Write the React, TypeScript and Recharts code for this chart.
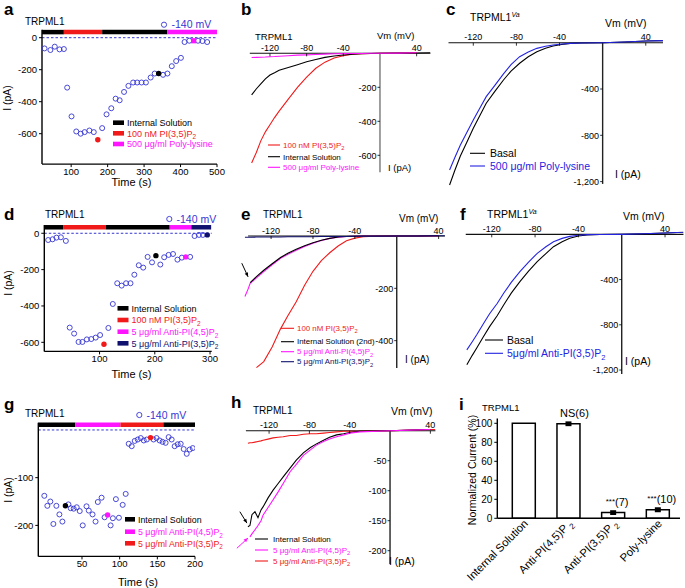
import React from 'react';
import {
  ScatterChart, Scatter, LineChart, Line, BarChart, Bar, ErrorBar, LabelList,
  XAxis, YAxis, ReferenceLine, ReferenceDot,
} from 'recharts';

const FONT = '"Liberation Sans", Arial, Helvetica, sans-serif';
const BLUE = '#3535d4';
const RED = '#f01a1a';
const MAGENTA = '#ff14ff';
const NAVY = '#10106e';
const BLACK = '#000';

// ---------- a: time course, -140 mV
const aTime = [27, 43, 55, 68, 80, 89, 101, 114, 126, 137, 150, 162, 185, 197, 210, 222, 233, 245, 257, 270, 281, 293, 305, 318, 329, 352, 364, 376, 388, 401, 411, 424, 448, 460, 473];
const aCurrent = [-67, -77, -56, -73, -71, -312, -492, -586, -600, -590, -580, -590, -565, -479, -441, -381, -391, -339, -301, -280, -280, -280, -280, -249, -224, -232, -224, -178, -146, -126, -27, -19, -19, -21, -27];
const aMarkTime = [173, 340, 436];
const aMarkCurrent = [-638, -224, -19];
const aMarkColors = [RED, BLACK, MAGENTA];
const aBarEdges = [20, 80, 185, 364, 500];
const aBarColors = [BLACK, RED, BLACK, MAGENTA];
const aLegend = ['Internal Solution', '100 nM PI(3,5)P2', '500 \u03bcg/ml Poly-lysine'];

// ---------- d
const dTime = [7, 15, 22, 30, 39, 46, 54, 62, 69, 77, 85, 93, 101, 116, 124, 132, 140, 148, 156, 163, 171, 179, 187, 195, 210, 217, 225, 233, 241, 249, 264, 272, 280, 287];
const dCurrent = [-37, -33, -24, -22, -42, -519, -552, -598, -598, -584, -582, -574, -560, -521, -389, -275, -288, -275, -275, -228, -176, -189, -130, -160, -172, -132, -119, -114, -145, -134, -130, -15, -9, -9];
const dMarkTime = [108, 202, 256, 295];
const dMarkCurrent = [-611, -123, -130, -9];
const dMarkColors = [RED, BLACK, MAGENTA, NAVY];
const dBarEdges = [0, 34, 111, 227, 266, 302];
const dBarColors = [BLACK, RED, BLACK, MAGENTA, NAVY];
const dLegend = ['Internal Solution', '100 nM PI(3,5)P2', '5 \u03bcg/ml Anti-PI(4,5)P2', '5 \u03bcg/ml Anti-PI(3,5)P2'];

// ---------- g
const gTime = [0, 4, 8, 12, 16, 20, 24, 32, 35, 39, 43, 47, 51, 56, 59, 64, 68, 71, 76, 80, 88, 91, 95, 99, 104, 108, 112, 116, 120, 124, 128, 132, 136, 145, 149, 153, 157, 161, 165, 169, 173, 177, 181, 185, 189, 193, 197];
const gCurrent = [-138, -159, -150, -197, -159, -177, -192, -156, -164, -165, -162, -170, -200, -160, -169, -177, -192, -151, -142, -183, -200, -185, -145, -184, -157, -134, -29, -34, -23, -20, -17, -22, -20, -20, -17, -22, -25, -27, -15, -20, -34, -30, -29, -40, -50, -41, -38];
const gMarkTime = [28, 84, 141];
const gMarkCurrent = [-159, -178, -16];
const gMarkColors = [BLACK, MAGENTA, RED];
const gBarEdges = [-8, 41, 101, 158, 200];
const gBarColors = [BLACK, MAGENTA, RED, BLACK];
const gLegend = ['Internal Solution', '5 \u03bcg/ml Anti-PI(4,5)P2', '5 \u03bcg/ml Anti-PI(3,5)P2'];

// ---------- I-V ramps
const ivXTicks = [-120, -80, -40, 40];

const bVm = [-140, -135, -130, -125, -120, -115, -110, -100, -90, -80, -70, -60, -50, -40, -30, -20, -10, 0, 20, 40, 55];
const bRed = [-645, -585, -515, -462, -420, -378, -340, -270, -200, -140, -88, -52, -28, -14, -6, -3, -1, 0, 2, 4, null];
const bBlack = [-245, -210, -180, -150, -128, -115, -100, -84, -67, -50, -36, -24, -16, -10, -6, -3, -1, 0, 1, 2, 3];
const bMagenta = [-25, -24, -23, -22, -20, -19, -17, -14, -11, -9, -7, -5, -3, -2, -1, -1, 0, 0, 1, 3, null];
const bYTicks = [-200, -400, -600];
const bLegend = ['100 nM PI(3,5)P2', 'Internal Solution', '500 \u03bcg/ml Poly-lysine'];

const cVm = [-142, -137, -132, -126, -120, -114, -108, -100, -92, -85, -77, -69, -61, -53, -46, -38, -30, -20, 0, 20, 40, 56];
const cBlack = [-1229, -1100, -979, -860, -739, -630, -523, -420, -322, -245, -178, -122, -78, -48, -29, -15, -6, -2, 0, 6, 14, 18];
const cBlue = [-1099, -990, -883, -775, -667, -566, -466, -368, -270, -190, -121, -80, -49, -31, -20, -11, -6, -2, 0, 6, 14, 18];
const cYTicks = [-400, -800, -1200];
const cLegend = ['Basal', '500 \u03bcg/ml Poly-lysine'];

const eVm = [-145, -142, -140, -134, -127, -119, -111, -104, -96, -88, -80, -72, -64, -56, -48, -40, -32, -20, 0, 20, 40, 46];
const eRed = [null, null, null, -503, -480, -424, -355, -305, -251, -188, -135, -94, -64, -38, -18, -8, -3, -1, 0, 0, 1, null];
const eBlack = [null, null, -178, -155, -131, -106, -82, -66, -51, -37, -26, -16, -9, -4, -2, -1, 0, 0, 0, 0, 1, null];
const eMagenta = [-231, -203, -181, -160, -136, -110, -85, -70, -54, -40, -28, -17, -9, -5, -2, -1, 0, 0, 0, 0, 1, null];
const eNavy = [-5, -5, -5, -4, -4, -4, -4, -3, -3, -3, -3, -2, -2, -2, -2, -1, -1, -1, 0, 0, 1, 1];
const eYTicks = [-200, -400];
const eLegend = ['100 nM PI(3,5)P2', 'Internal Solution (2nd)', '5 \u03bcg/ml Anti-PI(4,5)P2', '5 \u03bcg/ml Anti-PI(3,5)P2'];

const fVm = [-143, -138, -134, -128, -122, -115, -109, -102, -94, -86, -78, -70, -63, -55, -48, -40, -32, -20, 0, 20, 40, 57];
const fBlack = [-1154, -1070, -1007, -910, -816, -720, -625, -520, -418, -325, -242, -170, -109, -65, -35, -15, -6, -2, 0, 5, 12, 18];
const fBlue = [-1022, -950, -890, -795, -702, -612, -521, -425, -330, -245, -168, -110, -65, -36, -18, -8, -3, -1, 0, 5, 12, 18];
const fYTicks = [-400, -800, -1200];
const fLegend = ['Basal', '5\u03bcg/ml Anti-PI(3,5)P2'];

const hVm = [-141, -139, -137, -134, -131, -128, -126, -121, -116, -111, -106, -99, -93, -86, -79, -73, -66, -60, -53, -46, -40, -30, 0, 20, 40, 45];
const hBlack = [-160, -158, -140, -135, -145, -132, -127, -112, -99, -88, -77, -62, -49, -37, -28, -22, -16, -11, -7, -5, -3, -1, 0, 1, 2, null];
const hMagenta = [null, -177, -172, -165, -158, -150, -141, -128, -115, -102, -88, -68, -56, -41, -32, -24, -18, -14, -10, -7, -4, -2, 0, 1, 2, null];
const hRed = [-21, -20, -20, -19, -18, -17, -16, -14, -12, -11, -10, -8, -8, -6, -5, -5, -4, -3, -2, -1, -1, -1, 0, 1, 2, 2];
const hYTicks = [-50, -100, -150, -200];
const hLegend = ['Internal Solution', '5 \u03bcg/ml Anti-PI(4,5)P2', '5 \u03bcg/ml Anti-PI(3,5)P2'];

// ---------- i: summary bars
const iCategories = ['Internal Solution', 'Anti-PI(4,5)P2', 'Anti-PI(3,5)P2', 'Poly-lysine'];
const iValues = [100, 99.5, 6, 9];
const iErrors = [0, 1.2, 1.2, 1.3];
const iNotes = ['', 'NS(6)', '***(7)', '***(10)'];
const iYTicks = [0, 20, 40, 60, 80, 100];

// text ending with "P2" gets a subscript 2
const Sub = ({ s, size, gap = '' }: { s: string; size: number; gap?: string }) => {
  if (s.endsWith(')P2')) {
    return (<>{s.slice(0, -1)}<tspan dy={size * 0.3} fontSize={size * 0.72}>{gap}2</tspan></>);
  }
  return <>{s}</>;
};

const T = ({ x, y, size = 9, color = BLACK, anchor = 'start', bold = false, rotate, children }: any) => (
  <text x={x} y={y} fontSize={size} fill={color} textAnchor={anchor} fontWeight={bold ? 'bold' : 'normal'}
    fontFamily={FONT} transform={rotate ? `rotate(${rotate} ${x} ${y})` : undefined}>{children}</text>
);

const openCircle = (p: any) => (
  <circle cx={p.cx} cy={p.cy} r={2.5} fill="none" stroke={BLUE} strokeWidth={0.9} />
);
const filledMark = (color: string, square: boolean) => (p: any) => square
  ? <rect x={p.cx - 2.6} y={p.cy - 2.6} width={5.2} height={5.2} fill={color} />
  : <circle cx={p.cx} cy={p.cy} r={2.7} fill={color} />;

const axisStyle = { stroke: BLACK, strokeWidth: 1.4 };
const tickStyle = { fontSize: 9.5, fill: BLACK, fontFamily: FONT };

function TimeCourse({ box, margin, xDomain, yDomain, xTicks, yTicks, yWidth, xHeight,
  times, currents, markT, markI, markColors, squareIdx = -1, barEdges, barColors, barLevel }: any) {
  const pts = times.map((t: number, k: number) => ({ t, i: currents[k] }));
  return (
    <div style={{ position: 'absolute', left: box[0], top: box[1] }}>
      <ScatterChart width={box[2]} height={box[3]} margin={margin}>
        <XAxis type="number" dataKey="t" domain={xDomain} ticks={xTicks} allowDataOverflow height={xHeight}
          axisLine={axisStyle} tickLine={{ stroke: BLACK }} tickSize={3} tickMargin={1} tick={tickStyle} />
        <YAxis type="number" dataKey="i" domain={yDomain} ticks={yTicks} allowDataOverflow width={yWidth}
          axisLine={axisStyle} tickLine={{ stroke: BLACK }} tickSize={3} tickMargin={2} tick={tickStyle} />
        <ReferenceLine segment={[{ x: xDomain[0], y: 0 }, { x: xDomain[1], y: 0 }]} stroke={BLUE}
          strokeDasharray="2.5 2" strokeWidth={1} />
        {barColors.map((c: string, k: number) => (
          <ReferenceLine key={k} segment={[{ x: barEdges[k], y: barLevel }, { x: barEdges[k + 1], y: barLevel }]}
            stroke={c} strokeWidth={4.5} />
        ))}
        <Scatter data={pts} shape={openCircle} isAnimationActive={false} />
        {markT.map((t: number, k: number) => (
          <Scatter key={k} data={[{ t, i: markI[k] }]} shape={filledMark(markColors[k], k === squareIdx)}
            isAnimationActive={false} />
        ))}
      </ScatterChart>
    </div>
  );
}

const xTickShape = (v: number) => (p: any) => (
  <g>
    <line x1={p.cx} x2={p.cx} y1={p.cy} y2={p.cy + 3} stroke={BLACK} strokeWidth={0.8} />
    <text x={p.cx} y={p.cy - 2.5} fontSize={9} textAnchor="middle" fontFamily={FONT} fill={BLACK}>{v}</text>
  </g>
);
const yTickShape = (v: number) => (p: any) => (
  <g>
    <line x1={p.cx - 2.5} x2={p.cx} y1={p.cy} y2={p.cy} stroke={BLACK} strokeWidth={0.8} />
    <text x={p.cx - 3.5} y={p.cy + 3.2} fontSize={9} textAnchor="end" fontFamily={FONT} fill={BLACK}>
      {v.toLocaleString('en-US')}
    </text>
  </g>
);
const arrowShape = (color: string) => (p: any) => {
  const { x1, y1, x2, y2 } = p;
  const ang = Math.atan2(y2 - y1, x2 - x1);
  const h = 4.5;
  const a1 = ang + Math.PI - 0.42;
  const a2 = ang + Math.PI + 0.42;
  return (
    <g>
      <line x1={x1} y1={y1} x2={x2} y2={y2} stroke={color} strokeWidth={1} />
      <path d={`M${x2},${y2}L${x2 + h * Math.cos(a1)},${y2 + h * Math.sin(a1)}L${x2 + h * Math.cos(a2)},${y2 + h * Math.sin(a2)}Z`} fill={color} />
    </g>
  );
};

function IVPanel({ box, margin, xDomain, yDomain, xSpan, ySpan, yTicks, vm, traces, colors, arrows = [], yAxisColor = '#222' }: any) {
  return (
    <div style={{ position: 'absolute', left: box[0], top: box[1] }}>
      <LineChart width={box[2]} height={box[3]} margin={margin}>
        <XAxis type="number" dataKey="v" domain={xDomain} hide allowDataOverflow />
        <YAxis type="number" dataKey="i" domain={yDomain} hide allowDataOverflow />
        <ReferenceLine segment={[{ x: xSpan[0], y: 0 }, { x: xSpan[1], y: 0 }]} stroke="#111" strokeWidth={1.1} />
        <ReferenceLine segment={[{ x: 0, y: ySpan[0] }, { x: 0, y: ySpan[1] }]} stroke={yAxisColor} strokeWidth={1.4} />
        {ivXTicks.map((v) => <ReferenceDot key={`x${v}`} x={v} y={0} shape={xTickShape(v)} />)}
        {yTicks.map((v: number) => <ReferenceDot key={`y${v}`} x={0} y={v} shape={yTickShape(v)} />)}
        {traces.map((tr: (number | null)[], k: number) => (
          <Line key={k} data={vm.map((v: number, j: number) => ({ v, i: tr[j] }))} dataKey="i" type="linear"
            stroke={colors[k]} strokeWidth={1.1} dot={false} isAnimationActive={false} />
        ))}
        {arrows.map((a: any, k: number) => (
          <ReferenceLine key={`a${k}`} segment={[{ x: a[0], y: a[1] }, { x: a[2], y: a[3] }]} shape={arrowShape(a[4])} />
        ))}
      </LineChart>
    </div>
  );
}

const RectLegend = ({ x, rows, labels, colors, size, w = 11 }: any) => (
  <g>
    {labels.map((s: string, k: number) => (
      <g key={k}>
        <rect x={x} y={rows[k] - 2.3} width={w} height={4.6} fill={colors[k]} />
        <T x={x + w + 3} y={rows[k] + 3.2} size={size} color={colors[k]}><Sub s={s} size={size} /></T>
      </g>
    ))}
  </g>
);
const LineLegend = ({ x1, x2, tx, rows, labels, colors, size }: any) => (
  <g>
    {labels.map((s: string, k: number) => (
      <g key={k}>
        <line x1={x1} x2={x2} y1={rows[k]} y2={rows[k]} stroke={colors[k]} strokeWidth={1.1} />
        <T x={tx} y={rows[k] + size * 0.35} size={size} color={colors[k]}><Sub s={s} size={size} /></T>
      </g>
    ))}
  </g>
);

const CatTick = (p: any) => (
  <g transform={`translate(${p.x + 5},${p.y + 6})`}>
    <g transform="rotate(-45)">
      <text x={0} y={0} textAnchor="end" fontSize={11.2} fontFamily={FONT} fill={BLACK}>
        <Sub s={p.payload.value} size={11.2} gap=" " />
      </text>
    </g>
  </g>
);
const NoteLabel = (p: any) => {
  if (!p.value) return null;
  const stars = String(p.value).startsWith('***');
  const rest = stars ? String(p.value).slice(3) : String(p.value);
  return (
    <text x={p.x + p.width / 2 + (stars ? 4 : 6)} y={p.y - 7} textAnchor="middle" fontSize={11} fontFamily={FONT} fill={BLACK}>
      {stars && <tspan fontSize={8} dy={-1.5}>***</tspan>}
      <tspan dy={stars ? 1.5 : 0}>{rest}</tspan>
    </text>
  );
};

export default function App() {
  const iData = iCategories.map((c, k) => ({ c, v: iValues[k], err: iErrors[k], note: iNotes[k] }));
  return (
    <div style={{ position: 'absolute', left: 0, top: 0, width: 685, height: 588, background: '#fff', overflow: 'hidden', fontFamily: FONT }}>
      <TimeCourse box={[0, 0, 230, 195]} margin={{ top: 29.7, right: 13, bottom: 12.9, left: 6 }}
        xDomain={[20, 500]} yDomain={[-790, 50]} xTicks={[100, 200, 300, 400, 500]} yTicks={[0, -200, -400, -600]}
        yWidth={36} xHeight={18} times={aTime} currents={aCurrent} markT={aMarkTime} markI={aMarkCurrent}
        markColors={aMarkColors} squareIdx={2} barEdges={aBarEdges} barColors={aBarColors} barLevel={35} />
      <TimeCourse box={[0, 195, 230, 195]} margin={{ top: 30.1, right: 18.3, bottom: 20.6, left: 8.3 }}
        xDomain={[0, 303]} yDomain={[-650, 45]} xTicks={[100, 200, 300]} yTicks={[0, -200, -400, -600]}
        yWidth={36} xHeight={18} times={dTime} currents={dCurrent} markT={dMarkTime} markI={dMarkCurrent}
        markColors={dMarkColors} barEdges={dBarEdges} barColors={dBarColors} barLevel={33} />
      <TimeCourse box={[0, 390, 230, 198]} margin={{ top: 32.8, right: 35, bottom: 15.6, left: 6.3 }}
        xDomain={[-8, 200]} yDomain={[-265, 15]} xTicks={[50, 100, 150, 200]} yTicks={[-100, -200]}
        yWidth={32} xHeight={16} times={gTime} currents={gCurrent} markT={gMarkTime} markI={gMarkCurrent}
        markColors={gMarkColors} barEdges={gBarEdges} barColors={gBarColors} barLevel={11} />

      <IVPanel box={[230, 0, 205, 195]} margin={{ top: 50.75, right: 4.6, bottom: 22.7, left: 19.8 }}
        xDomain={[-142, 55]} yDomain={[-700, 15]} xSpan={[-142, 55]} ySpan={[0, -700]} yTicks={bYTicks}
        vm={bVm} traces={[bRed, bBlack, bMagenta]} colors={[RED, BLACK, MAGENTA]} yAxisColor="#777" />
      <IVPanel box={[430, 0, 255, 195]} margin={{ top: 39.8, right: 22, bottom: 7.6, left: 18.5 }}
        xDomain={[-143, 56]} yDomain={[-1250, 25]} xSpan={[-143, 56]} ySpan={[0, -1220]} yTicks={cYTicks}
        vm={cVm} traces={[cBlack, cBlue]} colors={[BLACK, '#2323e0']} />
      <IVPanel box={[230, 195, 220, 195]} margin={{ top: 38.4, right: 5.1, bottom: 21.9, left: 7.6 }}
        xDomain={[-152, 46]} yDomain={[-505, 10]} xSpan={[-142, 46]} ySpan={[0, -505]} yTicks={eYTicks}
        vm={eVm} traces={[eRed, eMagenta, eBlack, eNavy]} colors={[RED, MAGENTA, BLACK, NAVY]}
        arrows={[[-148, -104, -142, -156, BLACK]]} />
      <IVPanel box={[450, 195, 235, 195]} margin={{ top: 36.5, right: 1.55, bottom: 14.3, left: 15.75 }}
        xDomain={[-144, 57]} yDomain={[-1250, 25]} xSpan={[-144, 57]} ySpan={[0, -1235]} yTicks={fYTicks}
        vm={fVm} traces={[fBlack, fBlue]} colors={[BLACK, '#2323e0']} />
      <IVPanel box={[230, 390, 210, 198]} margin={{ top: 37.7, right: 4.6, bottom: 22.3, left: 3.8 }}
        xDomain={[-155, 45]} yDomain={[-225, 5]} xSpan={[-143, 45]} ySpan={[0, -222]} yTicks={hYTicks}
        vm={hVm} traces={[hRed, hBlack, hMagenta]} colors={[RED, BLACK, MAGENTA]}
        arrows={[[-149, -135, -142, -154, BLACK], [-152, -196, -141, -179, MAGENTA]]} />

      <div style={{ position: 'absolute', left: 440, top: 390 }}>
        <BarChart width={245} height={198} data={iData} margin={{ top: 28.55, right: 5, bottom: 7.7, left: 27.3 }}>
          <XAxis dataKey="c" interval={0} height={62} tick={CatTick} tickLine={false} tickSize={0} tickMargin={0}
            axisLine={axisStyle} padding={{ left: 4, right: 0 }} />
          <YAxis domain={[0, 105]} ticks={iYTicks} allowDataOverflow width={30} axisLine={axisStyle}
            tickLine={{ stroke: BLACK }} tickSize={3} tickMargin={2} tick={{ ...tickStyle, fontSize: 10 }} />
          <Bar dataKey="v" fill="#fff" stroke={BLACK} strokeWidth={1.5} barSize={23} isAnimationActive={false}>
            <ErrorBar dataKey="err" width={3} strokeWidth={2.5} stroke={BLACK} direction="y" />
            <LabelList dataKey="note" content={NoteLabel} />
          </Bar>
        </BarChart>
      </div>

      <svg width={685} height={588} style={{ position: 'absolute', left: 0, top: 0, pointerEvents: 'none' }}>
        {/* panel letters */}
        <T x={4} y={15} size={17} bold>a</T>
        <T x={241} y={15} size={17} bold>b</T>
        <T x={446} y={15} size={17} bold>c</T>
        <T x={4} y={220} size={17} bold>d</T>
        <T x={241} y={220} size={17} bold>e</T>
        <T x={460} y={220} size={17} bold>f</T>
        <T x={4} y={410} size={17} bold>g</T>
        <T x={231} y={408} size={17} bold>h</T>
        <T x={459} y={410} size={17} bold>i</T>

        {/* titles */}
        <T x={25} y={25} size={10}>TRPML1</T>
        <T x={255} y={40} size={9.5}>TRPML1</T>
        <T x={470} y={20.5} size={10.5}>TRPML1<tspan dy={-4} fontSize={7} fontStyle="italic">Va</tspan></T>
        <T x={45} y={218} size={10}>TRPML1</T>
        <T x={263} y={218} size={10}>TRPML1</T>
        <T x={487} y={218} size={10.5}>TRPML1<tspan dy={-4} fontSize={7} fontStyle="italic">Va</tspan></T>
        <T x={25} y={416.5} size={10}>TRPML1</T>
        <T x={253} y={414} size={10}>TRPML1</T>
        <T x={482} y={410.5} size={9.5}>TRPML1</T>

        {/* holding potential keys */}
        <circle cx={164} cy={24.7} r={2.6} fill="none" stroke={BLUE} strokeWidth={0.9} />
        <T x={171.5} y={28} size={10.5} color={BLUE}>-140 mV</T>
        <circle cx={169.3} cy={219} r={2.6} fill="none" stroke={BLUE} strokeWidth={0.9} />
        <T x={176.5} y={222.5} size={10.5} color={BLUE}>-140 mV</T>
        <circle cx={139.3} cy={415} r={2.6} fill="none" stroke={BLUE} strokeWidth={0.9} />
        <T x={146.5} y={418.5} size={10.5} color={BLUE}>-140 mV</T>

        {/* axis titles */}
        <T x={131.5} y={186} size={11} anchor="middle">Time (s)</T>
        <T x={10.5} y={98} size={10.5} anchor="middle" rotate={-90}>I (pA)</T>
        <T x={131.5} y={378} size={11} anchor="middle">Time (s)</T>
        <T x={11.5} y={283} size={10.5} anchor="middle" rotate={-90}>I (pA)</T>
        <T x={138} y={585.5} size={11} anchor="middle">Time (s)</T>
        <T x={11.5} y={490} size={10.5} anchor="middle" rotate={-90}>I (pA)</T>

        <T x={377} y={38.5} size={9.5}>Vm (mV)</T>
        <T x={388} y={171} size={9.5}>I (pA)</T>
        <T x={605} y={26.5} size={10.5}>Vm (mV)</T>
        <T x={615} y={178} size={10.5}>I (pA)</T>
        <T x={399} y={221.5} size={10}>Vm (mV)</T>
        <T x={405} y={363} size={10}>I (pA)</T>
        <T x={623} y={220} size={10.5}>Vm (mV)</T>
        <T x={625} y={365} size={10.5}>I (pA)</T>
        <T x={391} y={415} size={10.5}>Vm (mV)</T>
        <T x={389} y={565} size={10.5}>I (pA)</T>
        <T x={476} y={470} size={10.5} anchor="middle" rotate={-90}>Normalized Current (%)</T>

        {/* legends */}
        <RectLegend x={113} rows={[122.7, 133.3, 144]} labels={aLegend} colors={[BLACK, RED, MAGENTA]} size={9} />
        <RectLegend x={117.5} rows={[308.3, 320, 331.7, 343.3]} labels={dLegend} colors={[BLACK, RED, MAGENTA, NAVY]} size={9} />
        <RectLegend x={125} rows={[519.3, 531.7, 543.3]} labels={gLegend} colors={[BLACK, MAGENTA, RED]} size={8.8} w={10} />
        <LineLegend x1={268} x2={280} tx={283} rows={[145, 156.7, 167.3]} labels={bLegend} colors={[RED, BLACK, MAGENTA]} size={8} />
        <LineLegend x1={470} x2={485} tx={490} rows={[153.3, 166]} labels={cLegend} colors={[BLACK, '#2323e0']} size={10.5} />
        <LineLegend x1={281} x2={294} tx={297} rows={[328.3, 341.7, 351.7, 361.7]} labels={eLegend} colors={[RED, BLACK, MAGENTA, NAVY]} size={7.9} />
        <LineLegend x1={485} x2={503} tx={507} rows={[340, 353.3]} labels={fLegend} colors={[BLACK, '#2323e0']} size={10.5} />
        <LineLegend x1={255} x2={268} tx={273} rows={[539, 550, 561]} labels={hLegend} colors={[BLACK, MAGENTA, RED]} size={8} />
      </svg>
    </div>
  );
}
